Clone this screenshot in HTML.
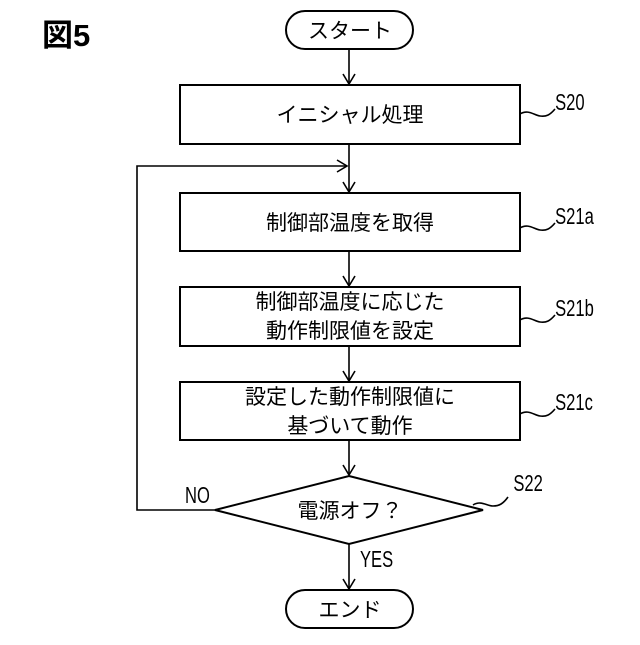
<!DOCTYPE html>
<html><head><meta charset="utf-8"><style>
html,body{margin:0;padding:0;background:#fff;}
svg text{font-family:"Liberation Sans","Noto Sans CJK JP",sans-serif;fill:#000;}
</style></head><body>
<svg width="640" height="640" viewBox="0 0 640 640" xmlns="http://www.w3.org/2000/svg">
<text x="42" y="46" font-size="31" font-weight="bold">図5</text>
<g fill="none" stroke="#000" stroke-width="2">
<rect x="286" y="11" width="127" height="38" rx="19"/>
<rect x="180" y="85" width="340" height="59"/>
<rect x="180" y="193" width="340" height="58"/>
<rect x="180" y="287" width="340" height="59"/>
<rect x="180" y="382" width="340" height="58"/>
<polygon points="349,476 483,510 349,544 215,510"/>
<rect x="286" y="590" width="127" height="38" rx="19"/>
</g>
<g stroke="#000" stroke-width="1.6" fill="none">
<line x1="349" y1="49" x2="349" y2="84"/><path d="M343,74 L349,84 L355,74"/>
<line x1="349" y1="144" x2="349" y2="192"/><path d="M343,182 L349,192 L355,182"/>
<line x1="349" y1="251" x2="349" y2="286"/><path d="M343,276 L349,286 L355,276"/>
<line x1="349" y1="346" x2="349" y2="381"/><path d="M343,371 L349,381 L355,371"/>
<line x1="349" y1="440" x2="349" y2="475"/><path d="M343,465 L349,475 L355,465"/>
<line x1="349" y1="544" x2="349" y2="589"/><path d="M343,579 L349,589 L355,579"/>
<polyline points="215,510 137,510 137,166 347,166"/><path d="M337,160 L347,166 L337,172"/>
<path d="M520,114 C528,109 534,115 540,116 S550,115 555,109"/>
<path d="M520,228 C528,223 534,229 540,230 S550,229 555,223"/>
<path d="M520,320 C528,315 534,321 540,322 S550,321 555,315"/>
<path d="M520,414 C528,409 534,415 540,416 S550,415 555,409"/>
<path d="M473,505 C481,500 487,506 493,506 S503,504 508,497"/>
</g>
<g font-size="21" text-anchor="middle">
<text x="350" y="38">スタート</text>
<text x="350" y="122">イニシャル処理</text>
<text x="350" y="230">制御部温度を取得</text>
<text x="350" y="309">制御部温度に応じた</text>
<text x="350" y="338">動作制限値を設定</text>
<text x="350" y="404">設定した動作制限値に</text>
<text x="350" y="433">基づいて動作</text>
<text x="350" y="518">電源オフ？</text>
<text x="350" y="617">エンド</text>
</g>
<g font-size="23" transform="scale(0.72,1)">
<text x="771" y="110">S20</text>
<text x="771" y="224">S21a</text>
<text x="771" y="316">S21b</text>
<text x="771" y="410">S21c</text>
<text x="713" y="491">S22</text>
<text x="257" y="503">NO</text>
<text x="500" y="567">YES</text>
</g>
</svg>
</body></html>
